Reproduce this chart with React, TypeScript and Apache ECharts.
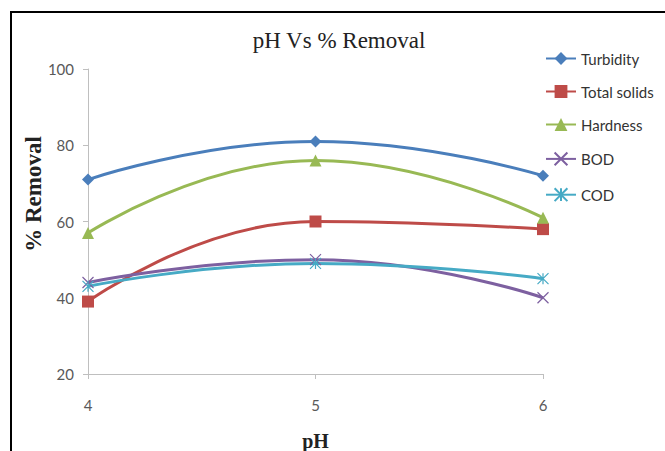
import React, { useEffect, useRef } from "react";
import * as echarts from "echarts";

const phValues = [4, 5, 6];
const turbidity = [71, 81, 72];
const totalSolids = [39, 60, 58];
const hardness = [57, 76, 61];
const bod = [44, 50, 40];
const cod = [43, 49, 45];

const seriesNames = ["Turbidity", "Total solids", "Hardness", "BOD", "COD"];
const colors = ["#4A7EBB", "#BE4B48", "#98B954", "#7D60A0", "#46AAC5"];

const X_SYMBOL = "path://M0,0L10,10M10,0L0,10";
const STAR_SYMBOL = "path://M5,0L5,10M0,0L10,10M10,0L0,10";

export default function App() {
  const ref = useRef<HTMLDivElement>(null);
  useEffect(() => {
    document.body.style.margin = "0";
    const chart = echarts.init(ref.current!, null, { renderer: "svg" });
    const datasets = [turbidity, totalSolids, hardness, bod, cod];
    const symbols = ["diamond", "rect", "triangle", X_SYMBOL, STAR_SYMBOL];
    const sizes = [12, 12, 12, 11, 11];
    const series = datasets.map((d, i) => {
      const stroked = i >= 3;
      return {
        name: seriesNames[i],
        type: "line",
        smooth: 0.5,
        data: d.map((v, j) => [phValues[j], v]),
        symbol: symbols[i],
        symbolSize: sizes[i],
        lineStyle: { color: colors[i], width: 3 },
        itemStyle: stroked
          ? { color: "none", borderColor: colors[i], borderWidth: 1.2 }
          : { color: colors[i], borderWidth: 0 },
        emphasis: { disabled: true },
      };
    });
    chart.setOption({
      animation: false,
      backgroundColor: "#ffffff",
      title: {
        text: "pH Vs % Removal",
        left: 334,
        textAlign: "center",
        top: 24,
        textStyle: {
          fontFamily: "Liberation Serif",
          fontSize: 23,
          fontWeight: "normal",
          color: "#222",
        },
      },
      legend: {
        orient: "vertical",
        left: 545,
        top: 51,
        padding: 0,
        itemGap: 18,
        itemWidth: 30,
        itemHeight: 16,
        data: seriesNames,
        textStyle: { fontFamily: "Lato", fontSize: 15, color: "#333" },
      },
      grid: { left: 88, right: 122, top: 69, bottom: 77, outerBoundsMode: "none" },
      xAxis: {
        type: "value",
        min: 4,
        max: 6,
        interval: 1,
        name: "pH",
        nameLocation: "middle",
        nameGap: 57,
        nameTextStyle: {
          fontFamily: "Liberation Serif",
          fontSize: 20,
          fontWeight: "bold",
          color: "#222",
        },
        axisLine: { lineStyle: { color: "#BFBFBF", width: 1 } },
        axisTick: { show: true, length: 5, lineStyle: { color: "#BFBFBF" } },
        axisLabel: { fontFamily: "Lato", fontSize: 15, color: "#595959", margin: 23 },
        splitLine: { show: false },
      },
      yAxis: {
        type: "value",
        min: 20,
        max: 100,
        interval: 20,
        axisLine: { show: true, lineStyle: { color: "#BFBFBF", width: 1 } },
        axisTick: { show: true, length: 5, lineStyle: { color: "#BFBFBF" } },
        axisLabel: { fontFamily: "Lato", fontSize: 15, color: "#595959", margin: 14 },
        splitLine: { show: false },
      },
      graphic: [
        {
          type: "line",
          shape: { x1: 10, y1: 12, x2: 665, y2: 12 },
          style: { stroke: "#000", lineWidth: 2 },
        },
        {
          type: "line",
          shape: { x1: 11, y1: 11, x2: 11, y2: 451 },
          style: { stroke: "#000", lineWidth: 2 },
        },
        {
          type: "text",
          x: 33,
          y: 194,
          rotation: Math.PI / 2,
          style: {
            text: "% Removal",
            fontFamily: "Liberation Serif",
            fontSize: 23,
            fontWeight: "bold",
            fill: "#222",
            textAlign: "center",
            textVerticalAlign: "middle",
          },
        },
      ],
      series,
    });
    return () => chart.dispose();
  }, []);
  return <div ref={ref} style={{ width: 665, height: 451 }} />;
}
